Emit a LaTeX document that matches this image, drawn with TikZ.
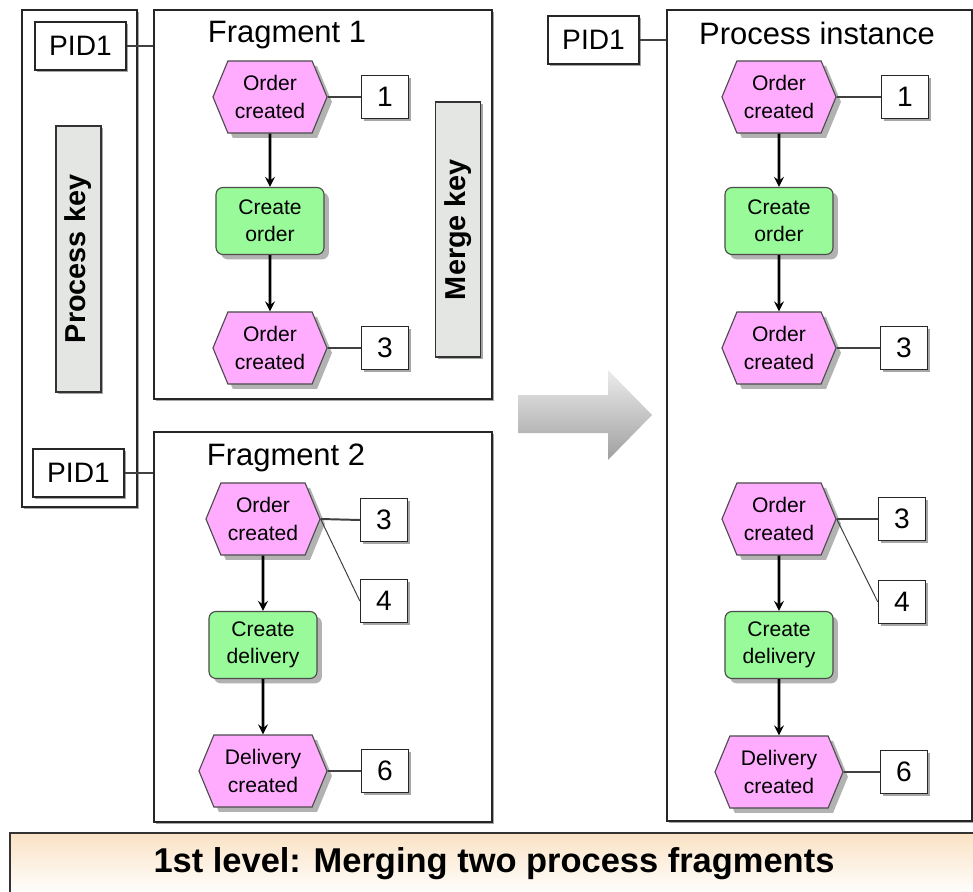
\documentclass[tikz,border=0pt]{standalone}
\usepackage{fontspec}
\setmainfont{Liberation Sans}
\usetikzlibrary{shapes.symbols,shadows}

\definecolor{evpink}{RGB}{255,172,255}
\definecolor{fngreen}{RGB}{152,250,152}
\definecolor{keygray}{RGB}{228,230,228}
\definecolor{bannertop}{RGB}{250,226,196}

\begin{document}
\begin{tikzpicture}[x=0.025cm, y=-0.025cm,
    % Define styles - one unit is one pixel of the screenshot
    container/.style={rectangle, draw=black!85, line width=1.2pt, fill=white, inner sep=0pt, drop shadow={shadow xshift=1.3pt, shadow yshift=-1.3pt, fill=black!35, opacity=1}},
    title/.style={anchor=base, inner sep=0pt, font=\fontsize{22}{26}\selectfont},
    evhex/.style={signal, signal to=east and west, signal pointer angle=135, draw=black!70, line width=0.8pt, fill=evpink, minimum width=2.85cm, minimum height=1.8cm, inner sep=0pt, align=center, font=\fontsize{15}{19.5}\selectfont, drop shadow={shadow xshift=3.5pt, shadow yshift=-3.5pt, fill=black!30, opacity=1}},
    fnbox/.style={rectangle, rounded corners=5pt, draw=black!70, line width=0.8pt, fill=fngreen, minimum width=2.7cm, minimum height=1.675cm, inner sep=0pt, align=center, font=\fontsize{15}{19.5}\selectfont, drop shadow={shadow xshift=3.5pt, shadow yshift=-3.5pt, fill=black!30, opacity=1}},
    numbox/.style={rectangle, draw=black!85, line width=1pt, fill=white, minimum width=1.175cm, minimum height=1.075cm, inner sep=0pt, font=\fontsize{20}{24}\selectfont, drop shadow={shadow xshift=1.5pt, shadow yshift=-1.5pt, fill=black!35, opacity=1}},
    pid/.style={numbox, minimum width=2.275cm, minimum height=1.2cm},
    keybox/.style={rectangle, draw=black!80, line width=1pt, fill=keygray, minimum width=1.125cm, inner sep=0pt, font=\bfseries\fontsize{20.5}{24}\selectfont, drop shadow={shadow xshift=1.5pt, shadow yshift=-1.5pt, fill=black!35, opacity=1}},
    link/.style={draw=black!75, line width=1.4pt},
    thinlink/.style={draw=black!75, line width=0.7pt},
    flow/.style={->, >=stealth, line width=2.1pt}
]
\useasboundingbox (0,0) rectangle (973,892);

% Containers
\node[container, minimum width=2.875cm, minimum height=12.425cm] (keycol) at (79.5,258.5) {};
\node[container, minimum width=8.45cm, minimum height=9.725cm] (frag1) at (323,204.5) {};
\node[container, minimum width=8.45cm, minimum height=9.75cm] (frag2) at (323,627) {};
\node[container, minimum width=7.625cm, minimum height=20.275cm] (inst) at (819.5,415.5) {};

% Titles
\node[title] (frag1_title) at (287,43) {Fragment 1};
\node[title] (frag2_title) at (286,465) {Fragment 2};
\node[title] (inst_title) at (817,45) {Process instance};

% Keys
\node[pid] (pid_top) at (80.5,46) {PID1};
\node[pid] (pid_bot) at (78.5,473) {PID1};
\node[pid] (pid_inst) at (593.5,40) {PID1};
\node[keybox, minimum height=6.65cm] (process_key) at (78.5,259) {\rotatebox{90}{Process key}};
\node[keybox, minimum height=6.375cm] (merge_key) at (458,229.5) {\rotatebox{90}{Merge key}};

% Fragment 1
\node[evhex] (f1_start) at (270,97) {Order\\created};
\node[fnbox] (f1_create) at (270,221) {Create\\order};
\node[evhex] (f1_end) at (270,348) {Order\\created};
\node[numbox] (f1_n1) at (385,97) {1};
\node[numbox] (f1_n3) at (385,348) {3};

% Fragment 2
\node[evhex] (f2_start) at (263,519) {Order\\created};
\node[fnbox] (f2_create) at (263,645) {Create\\delivery};
\node[evhex, minimum width=3.2cm] (f2_end) at (263,771) {Delivery\\created};
\node[numbox] (f2_n3) at (384,520) {3};
\node[numbox] (f2_n4) at (384,601) {4};
\node[numbox] (f2_n6) at (385,771) {6};

% Process instance
\node[evhex] (pi_start) at (779,97) {Order\\created};
\node[fnbox] (pi_create) at (779,221) {Create\\order};
\node[evhex] (pi_mid) at (779,348) {Order\\created};
\node[evhex] (pi_join) at (779,519) {Order\\created};
\node[fnbox] (pi_deliver) at (779,645) {Create\\delivery};
\node[evhex, minimum width=3.2cm] (pi_end) at (779,772) {Delivery\\created};
\node[numbox] (pi_n1) at (905,97) {1};
\node[numbox] (pi_n3a) at (904,348) {3};
\node[numbox] (pi_n3b) at (902,519) {3};
\node[numbox] (pi_n4) at (902,602) {4};
\node[numbox] (pi_n6) at (904,772) {6};

% Merge arrow
\shade[top color=gray!15, bottom color=gray!75] (518,395) -- (608,395) -- (608,370) -- (652,415) -- (608,460) -- (608,433) -- (518,433) -- cycle;

% Banner
\node[rectangle, draw=black!80, line width=1.2pt, top color=bannertop, bottom color=white, minimum width=24.2cm, minimum height=1.55cm, inner sep=0pt, font=\bfseries\fontsize{24.5}{28}\selectfont] (banner) at (494,864) {1st level: Merging two process fragments};

% Key connections
\draw[link] (pid_top.east) -- (pid_top.east -| frag1.west);
\draw[link] (pid_bot.east) -- (pid_bot.east -| frag2.west);
\draw[link] (pid_inst.east) -- (pid_inst.east -| inst.west);

% Control flow
\draw[flow] (f1_start) -- (f1_create);
\draw[flow] (f1_create) -- (f1_end);
\draw[flow] (f2_start) -- (f2_create);
\draw[flow] (f2_create) -- (f2_end);
\draw[flow] (pi_start) -- (pi_create);
\draw[flow] (pi_create) -- (pi_mid);
\draw[flow] (pi_join) -- (pi_deliver);
\draw[flow] (pi_deliver) -- (pi_end);

% Event numbers
\draw[link] (f1_start) -- (f1_n1);
\draw[link] (f1_end) -- (f1_n3);
\draw[link] (f2_start.east) -- (f2_n3.west);
\draw[thinlink] (f2_start.east) -- (f2_n4.west);
\draw[link] (f2_end) -- (f2_n6);
\draw[link] (pi_start) -- (pi_n1);
\draw[link] (pi_mid) -- (pi_n3a);
\draw[link] (pi_join.east) -- (pi_n3b.west);
\draw[thinlink] (pi_join.east) -- (pi_n4.west);
\draw[link] (pi_end) -- (pi_n6);

\end{tikzpicture}
\end{document}
